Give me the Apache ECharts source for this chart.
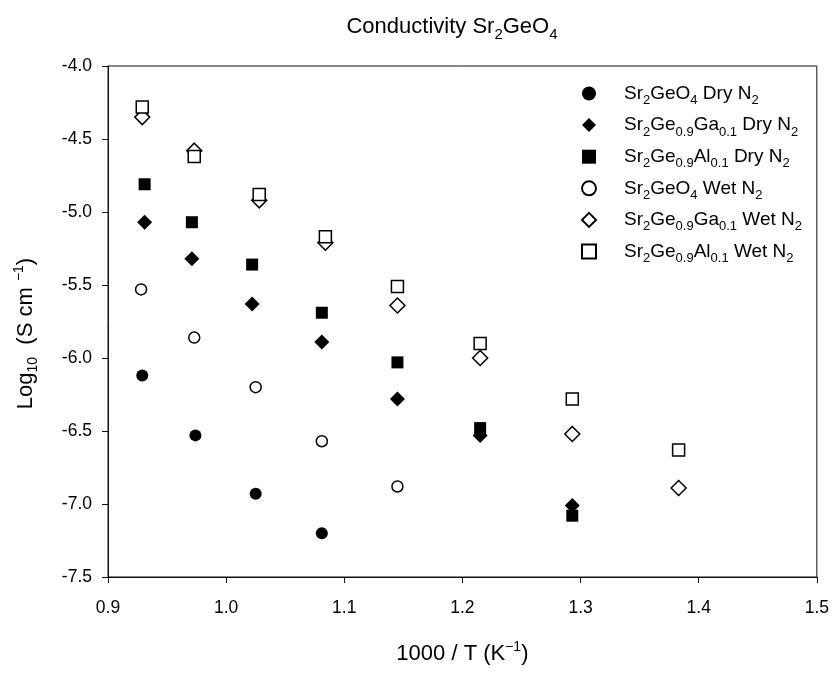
<!DOCTYPE html>
<html>
<head>
<meta charset="utf-8">
<script src="https://cdn.jsdelivr.net/npm/echarts@6/dist/echarts.min.js"></script>
<style>
  html, body { margin: 0; padding: 0; background: #fff; }
  #chart { width: 832px; height: 673px; }
</style>
</head>
<body>
<div id="chart"></div>
<script>
// values (x = 1000/T, y = log conductivity)
var xGeDry = [0.929, 0.974, 1.025, 1.081];
var yGeDry = [-6.12, -6.53, -6.93, -7.20];

var xGaDry = [0.931, 0.971, 1.022, 1.081, 1.145, 1.215, 1.293];
var yGaDry = [-5.07, -5.32, -5.63, -5.89, -6.28, -6.53, -7.01];

var xAlDry = [0.931, 0.971, 1.022, 1.081, 1.145, 1.215, 1.293];
var yAlDry = [-4.81, -5.07, -5.36, -5.69, -6.03, -6.48, -7.08];

var xGeWet = [0.928, 0.973, 1.025, 1.081, 1.145];
var yGeWet = [-5.53, -5.86, -6.20, -6.57, -6.88];

var xGaWet = [0.929, 0.973, 1.028, 1.084, 1.145, 1.215, 1.293, 1.383];
var yGaWet = [-4.35, -4.58, -4.92, -5.21, -5.64, -6.00, -6.52, -6.89];

var xAlWet = [0.929, 0.973, 1.028, 1.084, 1.145, 1.215, 1.293, 1.383];
var yAlWet = [-4.28, -4.62, -4.88, -5.17, -5.51, -5.90, -6.28, -6.63];

var seriesNames = [
    'Sr2GeO4 Dry N2',
    'Sr2Ge0.9Ga0.1 Dry N2',
    'Sr2Ge0.9Al0.1 Dry N2',
    'Sr2GeO4 Wet N2',
    'Sr2Ge0.9Ga0.1 Wet N2',
    'Sr2Ge0.9Al0.1 Wet N2'
];
// legend text with subscripts, same order as seriesNames
var legendLabels = [
    'Sr{sub|2}GeO{sub|4} Dry N{sub|2}',
    'Sr{sub|2}Ge{sub|0.9}Ga{sub|0.1} Dry N{sub|2}',
    'Sr{sub|2}Ge{sub|0.9}Al{sub|0.1} Dry N{sub|2}',
    'Sr{sub|2}GeO{sub|4} Wet N{sub|2}',
    'Sr{sub|2}Ge{sub|0.9}Ga{sub|0.1} Wet N{sub|2}',
    'Sr{sub|2}Ge{sub|0.9}Al{sub|0.1} Wet N{sub|2}'
];

var FONT = 'Liberation Sans, Arial, sans-serif';

function pairs(xs, ys) {
    var out = [];
    for (var i = 0; i < xs.length; i++) out.push([xs[i], ys[i]]);
    return out;
}

function makeSeries(name, xs, ys, symbol, size, filled) {
    return {
        name: name,
        type: 'scatter',
        symbol: symbol,
        symbolSize: size,
        data: pairs(xs, ys),
        itemStyle: filled ?
            { color: '#000', borderColor: '#000', borderWidth: 0, opacity: 1 } :
            { color: '#fff', borderColor: '#000', borderWidth: 1.5, opacity: 1 },
        emphasis: { disabled: true }
    };
}

// sub/superscript styles, size is the small font size
function scripts(size, drop) {
    return {
        sub: { fontSize: size, lineHeight: size + 1, fontFamily: FONT, color: '#000',
               verticalAlign: 'bottom', padding: [drop, 0, 0, 0] },
        sup: { fontSize: size, lineHeight: size + 1, fontFamily: FONT, color: '#000',
               verticalAlign: 'top', padding: [0, 0, drop, 0] },
        pad: { width: 24 }
    };
}

var option = {
    animation: false,
    backgroundColor: '#fff',
    title: {
        text: 'Conductivity Sr{sub|2}GeO{sub|4}',
        left: 447,
        top: 7,
        textAlign: 'center',
        textStyle: {
            fontFamily: FONT, fontSize: 22, fontWeight: 'normal', color: '#000', lineHeight: 30,
            rich: scripts(15, 14)
        }
    },
    legend: {
        orient: 'vertical',
        left: 581,
        top: 80,
        padding: 0,
        itemWidth: 14,
        itemHeight: 14,
        itemGap: 4.6,
        data: seriesNames,
        formatter: function (name) {
            return legendLabels[seriesNames.indexOf(name)];
        },
        textStyle: {
            fontFamily: FONT, fontSize: 19, color: '#000', lineHeight: 27,
            padding: [0, 0, 0, 23],
            rich: scripts(13, 13)
        }
    },
    grid: {
        left: 108, right: 15, top: 66, bottom: 96,
        show: true, borderColor: '#111', borderWidth: 1
    },
    xAxis: {
        type: 'value',
        min: 0.9, max: 1.5, interval: 0.1,
        name: '1000 / T (K{sup|\u22121})',
        nameLocation: 'middle',
        nameGap: 63,
        nameTextStyle: {
            fontFamily: FONT, fontSize: 22, color: '#000', lineHeight: 28,
            rich: scripts(14, 13)
        },
        axisLine: { show: true, onZero: false, lineStyle: { color: '#111', width: 1 } },
        axisTick: { show: true, inside: false, length: 6, lineStyle: { color: '#111' } },
        axisLabel: {
            fontFamily: FONT, fontSize: 17.5, color: '#000', margin: 22,
            formatter: function (v) { return v.toFixed(1); }
        },
        splitLine: { show: false }
    },
    yAxis: {
        type: 'value',
        min: -7.5, max: -4.0, interval: 0.5,
        name: 'Log{sub|10}  (S cm {sup|\u22121}){pad| }',
        nameLocation: 'middle',
        nameGap: 68,
        nameRotate: 90,
        nameTextStyle: {
            fontFamily: FONT, fontSize: 22, color: '#000', lineHeight: 28,
            rich: scripts(14, 13)
        },
        axisLine: { show: true, onZero: false, lineStyle: { color: '#111', width: 1 } },
        axisTick: { show: true, inside: false, length: 6, lineStyle: { color: '#111' } },
        axisLabel: {
            fontFamily: FONT, fontSize: 17.5, color: '#000', margin: 16,
            formatter: function (v) { return v.toFixed(1); }
        },
        splitLine: { show: false }
    },
    series: [
        makeSeries(seriesNames[0], xGeDry, yGeDry, 'circle', 12, true),
        makeSeries(seriesNames[1], xGaDry, yGaDry, 'diamond', 15, true),
        makeSeries(seriesNames[2], xAlDry, yAlDry, 'rect', 12, true),
        makeSeries(seriesNames[3], xGeWet, yGeWet, 'circle', 11, false),
        makeSeries(seriesNames[4], xGaWet, yGaWet, 'diamond', 15, false),
        makeSeries(seriesNames[5], xAlWet, yAlWet, 'rect', 12, false)
    ]
};

var myChart = echarts.init(document.getElementById('chart'));
myChart.setOption(option);
</script>
</body>
</html>
